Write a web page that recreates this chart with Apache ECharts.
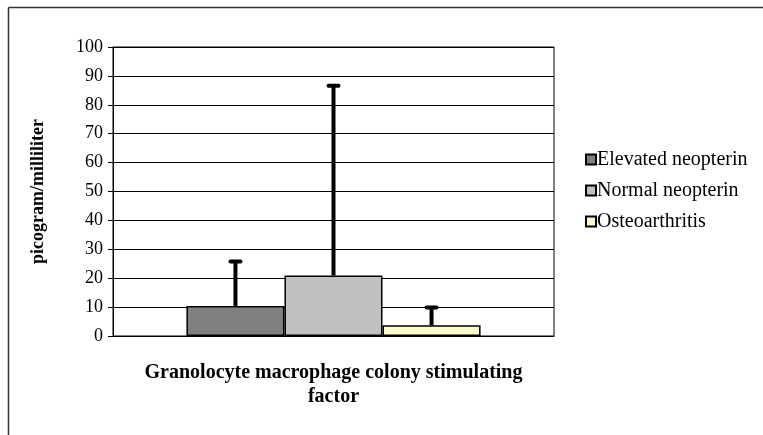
<!DOCTYPE html>
<html><head><meta charset="utf-8">
<script src="https://cdn.jsdelivr.net/npm/echarts@6/dist/echarts.min.js"></script>
<style>html,body{margin:0;padding:0;background:#fff}#c{width:763px;height:435px}</style>
</head><body><div id="c"></div>
<script>
const categories = ['Granolocyte macrophage colony stimulating factor'];
const seriesNames = ['Elevated neopterin', 'Normal neopterin', 'Osteoarthritis'];
const means = [10.4, 20.9, 3.7];
const errorTops = [25.8, 86.6, 9.9];
const yTicks = {min: 0, max: 100, interval: 10};
const colors = ['#808080', '#c0c0c0', '#ffffcc'];
const FONT = 'Liberation Serif';

const chart = echarts.init(document.getElementById('c'), null, {renderer: 'canvas'});
const bars = seriesNames.map((n, i) => ({
  name: n, type: 'bar', data: [means[i]], barGap: '0%', barCategoryGap: '33.3%',
  itemStyle: {color: colors[i], borderColor: '#000', borderWidth: 1.5},
  emphasis: {disabled: true}, z: 2
}));
const errs = seriesNames.map((n, i) => ({
  type: 'custom', name: n + ' err', data: [[0, means[i], errorTops[i]]], z: 5, silent: true,
  renderItem: function (params, api) {
    const catW = api.size([1, 0])[0];
    const bw = catW * (1 - 0.333) / 3;
    const base = api.coord([api.value(0), api.value(1)]);
    const top = api.coord([api.value(0), api.value(2)]);
    const x = base[0] + (i - 1) * bw;
    return {type: 'group', children: [
      {type: 'line', shape: {x1: x, y1: base[1], x2: x, y2: top[1]}, style: {stroke: '#000', lineWidth: 4}},
      {type: 'line', shape: {x1: x - 5, y1: top[1], x2: x + 5, y2: top[1]}, style: {stroke: '#000', lineWidth: 4, lineCap: 'round'}}
    ]};
  }
}));
chart.setOption({
  animation: false,
  backgroundColor: '#fff',
  textStyle: {fontFamily: FONT},
  grid: {left: 113, top: 47, right: 209, bottom: 99, show: true, borderColor: '#000', borderWidth: 1, backgroundColor: 'transparent'},
  legend: {
    orient: 'vertical', left: 580, top: 144, itemWidth: 10, itemHeight: 10, itemGap: 10,
    data: seriesNames, icon: 'rect',
    itemStyle: {borderColor: '#000', borderWidth: 2},
    textStyle: {fontFamily: FONT, fontSize: 20, lineHeight: 21, color: '#000', padding: [0, 0, 0, -4]}
  },
  xAxis: {
    type: 'category', data: categories,
    axisLine: {lineStyle: {color: '#000', width: 1}}, axisTick: {show: false},
    axisLabel: {
      fontFamily: FONT, fontSize: 20, fontWeight: 'bold', color: '#000', margin: 25, lineHeight: 24,
      formatter: v => { const k = v.lastIndexOf(' '); return v.slice(0, k) + '\n' + v.slice(k + 1); }
    }
  },
  yAxis: {
    type: 'value', min: yTicks.min, max: yTicks.max, interval: yTicks.interval,
    name: 'picogram/milliliter', nameLocation: 'middle', nameGap: 66, nameRotate: 90,
    nameTextStyle: {fontFamily: FONT, fontSize: 18, fontWeight: 'bold', color: '#000'},
    axisLine: {show: true, lineStyle: {color: '#000', width: 1}},
    axisTick: {show: true, length: 5, lineStyle: {color: '#000'}},
    axisLabel: {fontFamily: FONT, fontSize: 18, color: '#000', margin: 10},
    splitLine: {lineStyle: {color: '#000', width: 1}}
  },
  graphic: [
    {type: 'line', shape: {x1: 8.5, y1: 7.5, x2: 763, y2: 7.5}, style: {stroke: '#333', lineWidth: 1.5}},
    {type: 'line', shape: {x1: 8.5, y1: 7.5, x2: 8.5, y2: 435}, style: {stroke: '#333', lineWidth: 1.5}}
  ],
  series: bars.concat(errs)
});
</script></body></html>
